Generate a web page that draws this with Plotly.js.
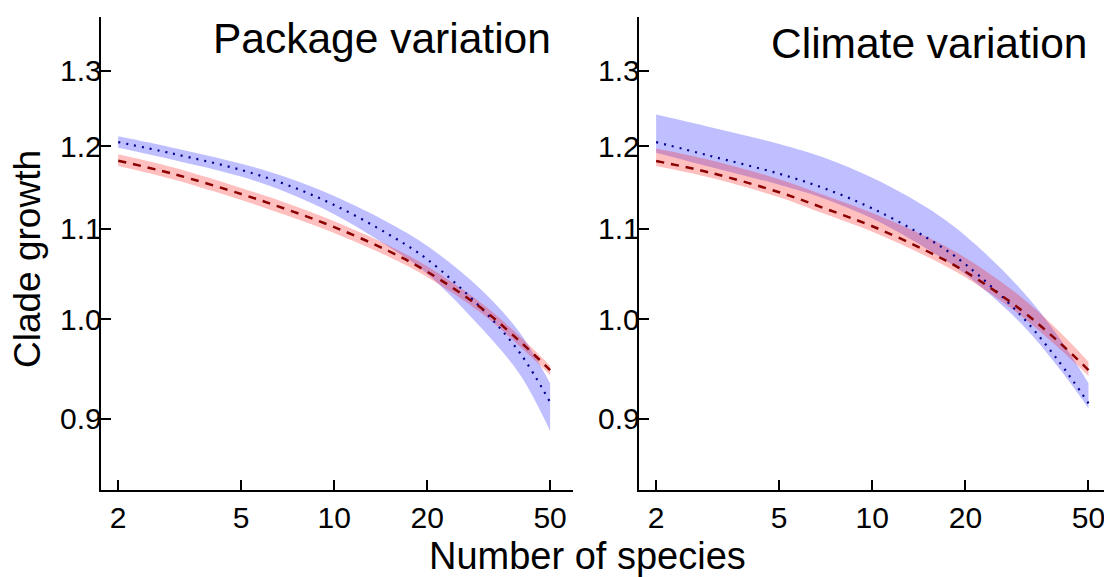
<!DOCTYPE html>
<html>
<head>
<meta charset="utf-8">
<script src="https://cdn.plot.ly/plotly-3.0.1.min.js"></script>
<style>html,body{margin:0;padding:0;background:#fff;}#chart{width:1104px;height:577px;}</style>
</head>
<body>
<div id="chart"></div>
<script>
// Number of species (x)
const species = [2, 3, 5, 7, 10, 15, 20, 30, 40, 50];

// Package variation panel
const pkgRedMid  = [1.1821, 1.1659, 1.1412, 1.1230, 1.1020, 1.0745, 1.0513, 1.0114, 0.9763, 0.9475];
const pkgRedHi   = [1.1901, 1.1739, 1.1485, 1.1303, 1.1087, 1.0809, 1.0572, 1.0167, 0.9815, 0.9519];
const pkgRedLo   = [1.1755, 1.1591, 1.1340, 1.1160, 1.0951, 1.0680, 1.0454, 1.0060, 0.9712, 0.9426];
const pkgBlueMid = [1.2056, 1.1910, 1.1706, 1.1526, 1.1281, 1.0936, 1.0651, 1.0113, 0.9644, 0.9158];
const pkgBlueHi  = [1.2129, 1.1985, 1.1783, 1.1616, 1.1388, 1.1072, 1.0805, 1.0311, 0.9850, 0.9343];
const pkgBlueLo  = [1.1984, 1.1834, 1.1624, 1.1432, 1.1170, 1.0794, 1.0491, 0.9902, 0.9426, 0.8884];

// Climate variation panel
const cliRedMid  = [1.1817, 1.1671, 1.1433, 1.1241, 1.1030, 1.0745, 1.0513, 1.0106, 0.9763, 0.9475];
const cliRedHi   = [1.1974, 1.1827, 1.1591, 1.1397, 1.1185, 1.0905, 1.0669, 1.0246, 0.9877, 0.9559];
const cliRedLo   = [1.1755, 1.1610, 1.1373, 1.1175, 1.0965, 1.0683, 1.0450, 1.0042, 0.9701, 0.9416];
const cliBlueMid = [1.2056, 1.1880, 1.1659, 1.1480, 1.1240, 1.0897, 1.0595, 1.0049, 0.9566, 0.9148];
const cliBlueHi  = [1.2411, 1.2247, 1.2032, 1.1858, 1.1610, 1.1250, 1.0920, 1.0330, 0.9815, 0.9343];
const cliBlueLo  = [1.1921, 1.1743, 1.1524, 1.1356, 1.1120, 1.0771, 1.0484, 0.9965, 0.9500, 0.9100];

// Axis ticks and labels
const xTickVals = [2, 5, 10, 20, 50];
const xTickText = ['2', '5', '10', '20', '50'];
const yTickVals = [0.9, 1.0, 1.1, 1.2, 1.3];
const yTickText = ['0.9', '1.0', '1.1', '1.2', '1.3'];
const panelTitles = ['Package variation', 'Climate variation'];
const xTitle = 'Number of species';
const yTitle = 'Clade growth';

const BAND_RED = 'rgba(255,0,0,0.25)';
const BAND_BLUE = 'rgba(0,0,255,0.25)';
const LINE_RED = '#8B0000';
const LINE_BLUE = '#00008B';

function panelTraces(xa, ya, redMid, redHi, redLo, blueMid, blueHi, blueLo) {
  const base = {x: species, xaxis: xa, yaxis: ya, mode: 'lines', hoverinfo: 'skip', showlegend: false};
  return [
    Object.assign({}, base, {y: blueLo, line: {width: 0, shape: 'spline', color: BAND_BLUE}}),
    Object.assign({}, base, {y: blueHi, fill: 'tonexty', fillcolor: BAND_BLUE, line: {width: 0, shape: 'spline', color: BAND_BLUE}}),
    Object.assign({}, base, {y: redLo, line: {width: 0, shape: 'spline', color: BAND_RED}}),
    Object.assign({}, base, {y: redHi, fill: 'tonexty', fillcolor: BAND_RED, line: {width: 0, shape: 'spline', color: BAND_RED}}),
    Object.assign({}, base, {y: blueMid, line: {width: 2.2, shape: 'spline', color: LINE_BLUE, dash: '2px,6px'}}),
    Object.assign({}, base, {y: redMid, line: {width: 2.5, shape: 'spline', color: LINE_RED, dash: '8px,7px'}})
  ];
}

const data = [].concat(
  panelTraces('x', 'y', pkgRedMid, pkgRedHi, pkgRedLo, pkgBlueMid, pkgBlueHi, pkgBlueLo),
  panelTraces('x2', 'y2', cliRedMid, cliRedHi, cliRedLo, cliBlueMid, cliBlueHi, cliBlueLo)
);

const FONT = 'Liberation Sans, Arial, Helvetica, sans-serif';
const W = 1104, H = 577;
const yDomain = [(H - 490) / H, (H - 17.3) / H];

function xAxis(domain, range) {
  return {
    type: 'log', domain: domain, range: range,
    tickvals: xTickVals, ticktext: xTickText,
    ticks: 'inside', ticklen: 10, tickwidth: 2, tickcolor: '#000',
    showline: true, linewidth: 2, linecolor: '#000',
    showgrid: false, zeroline: false,
    tickfont: {family: FONT, size: 30, color: '#000'},
    ticklabelstandoff: 0, ticklabeloverflow: 'allow'
  };
}
function yAxis(anchor) {
  return {
    type: 'log', domain: yDomain, range: [-0.07848, 0.13846], anchor: anchor,
    tickvals: yTickVals, ticktext: yTickText,
    ticks: 'inside', ticklen: 10, tickwidth: 2, tickcolor: '#000',
    showline: true, linewidth: 2, linecolor: '#000',
    showgrid: false, zeroline: false,
    tickfont: {family: FONT, size: 30, color: '#000'},
    ticklabelstandoff: -9, ticklabeloverflow: 'allow'
  };
}

const layout = {
  width: W, height: H, autosize: false,
  margin: {l: 0, r: 0, t: 0, b: 0, pad: 0},
  paper_bgcolor: '#fff', plot_bgcolor: '#fff',
  showlegend: false, hovermode: false,
  xaxis: Object.assign(xAxis([100.7 / W, 573.3 / W], [0.2444, 1.774]), {anchor: 'y'}),
  yaxis: yAxis('x'),
  xaxis2: Object.assign(xAxis([638.8 / W, 1], [0.2451, 1.7491]), {anchor: 'y2'}),
  yaxis2: yAxis('x2'),
  annotations: [
    {text: panelTitles[0], xref: 'x', yref: 'paper', x: Math.log10(50), y: (H - 38) / H, xshift: 3,
     xanchor: 'right', yanchor: 'middle', showarrow: false, font: {family: FONT, size: 42.5, color: '#000'}},
    {text: panelTitles[1], xref: 'x2', yref: 'paper', x: Math.log10(50), y: (H - 43) / H, xshift: 2,
     xanchor: 'right', yanchor: 'middle', showarrow: false, font: {family: FONT, size: 42.5, color: '#000'}},
    {text: xTitle, xref: 'paper', yref: 'paper', x: 587 / W, y: (H - 556) / H,
     xanchor: 'center', yanchor: 'middle', showarrow: false, font: {family: FONT, size: 38, color: '#000'}},
    {text: yTitle, xref: 'paper', yref: 'paper', x: 27 / W, y: (H - 259) / H, textangle: -90,
     xanchor: 'center', yanchor: 'middle', showarrow: false, font: {family: FONT, size: 37, color: '#000'}}
  ]
};

Plotly.newPlot('chart', data, layout, {staticPlot: true, displayModeBar: false});
</script>
</body>
</html>
